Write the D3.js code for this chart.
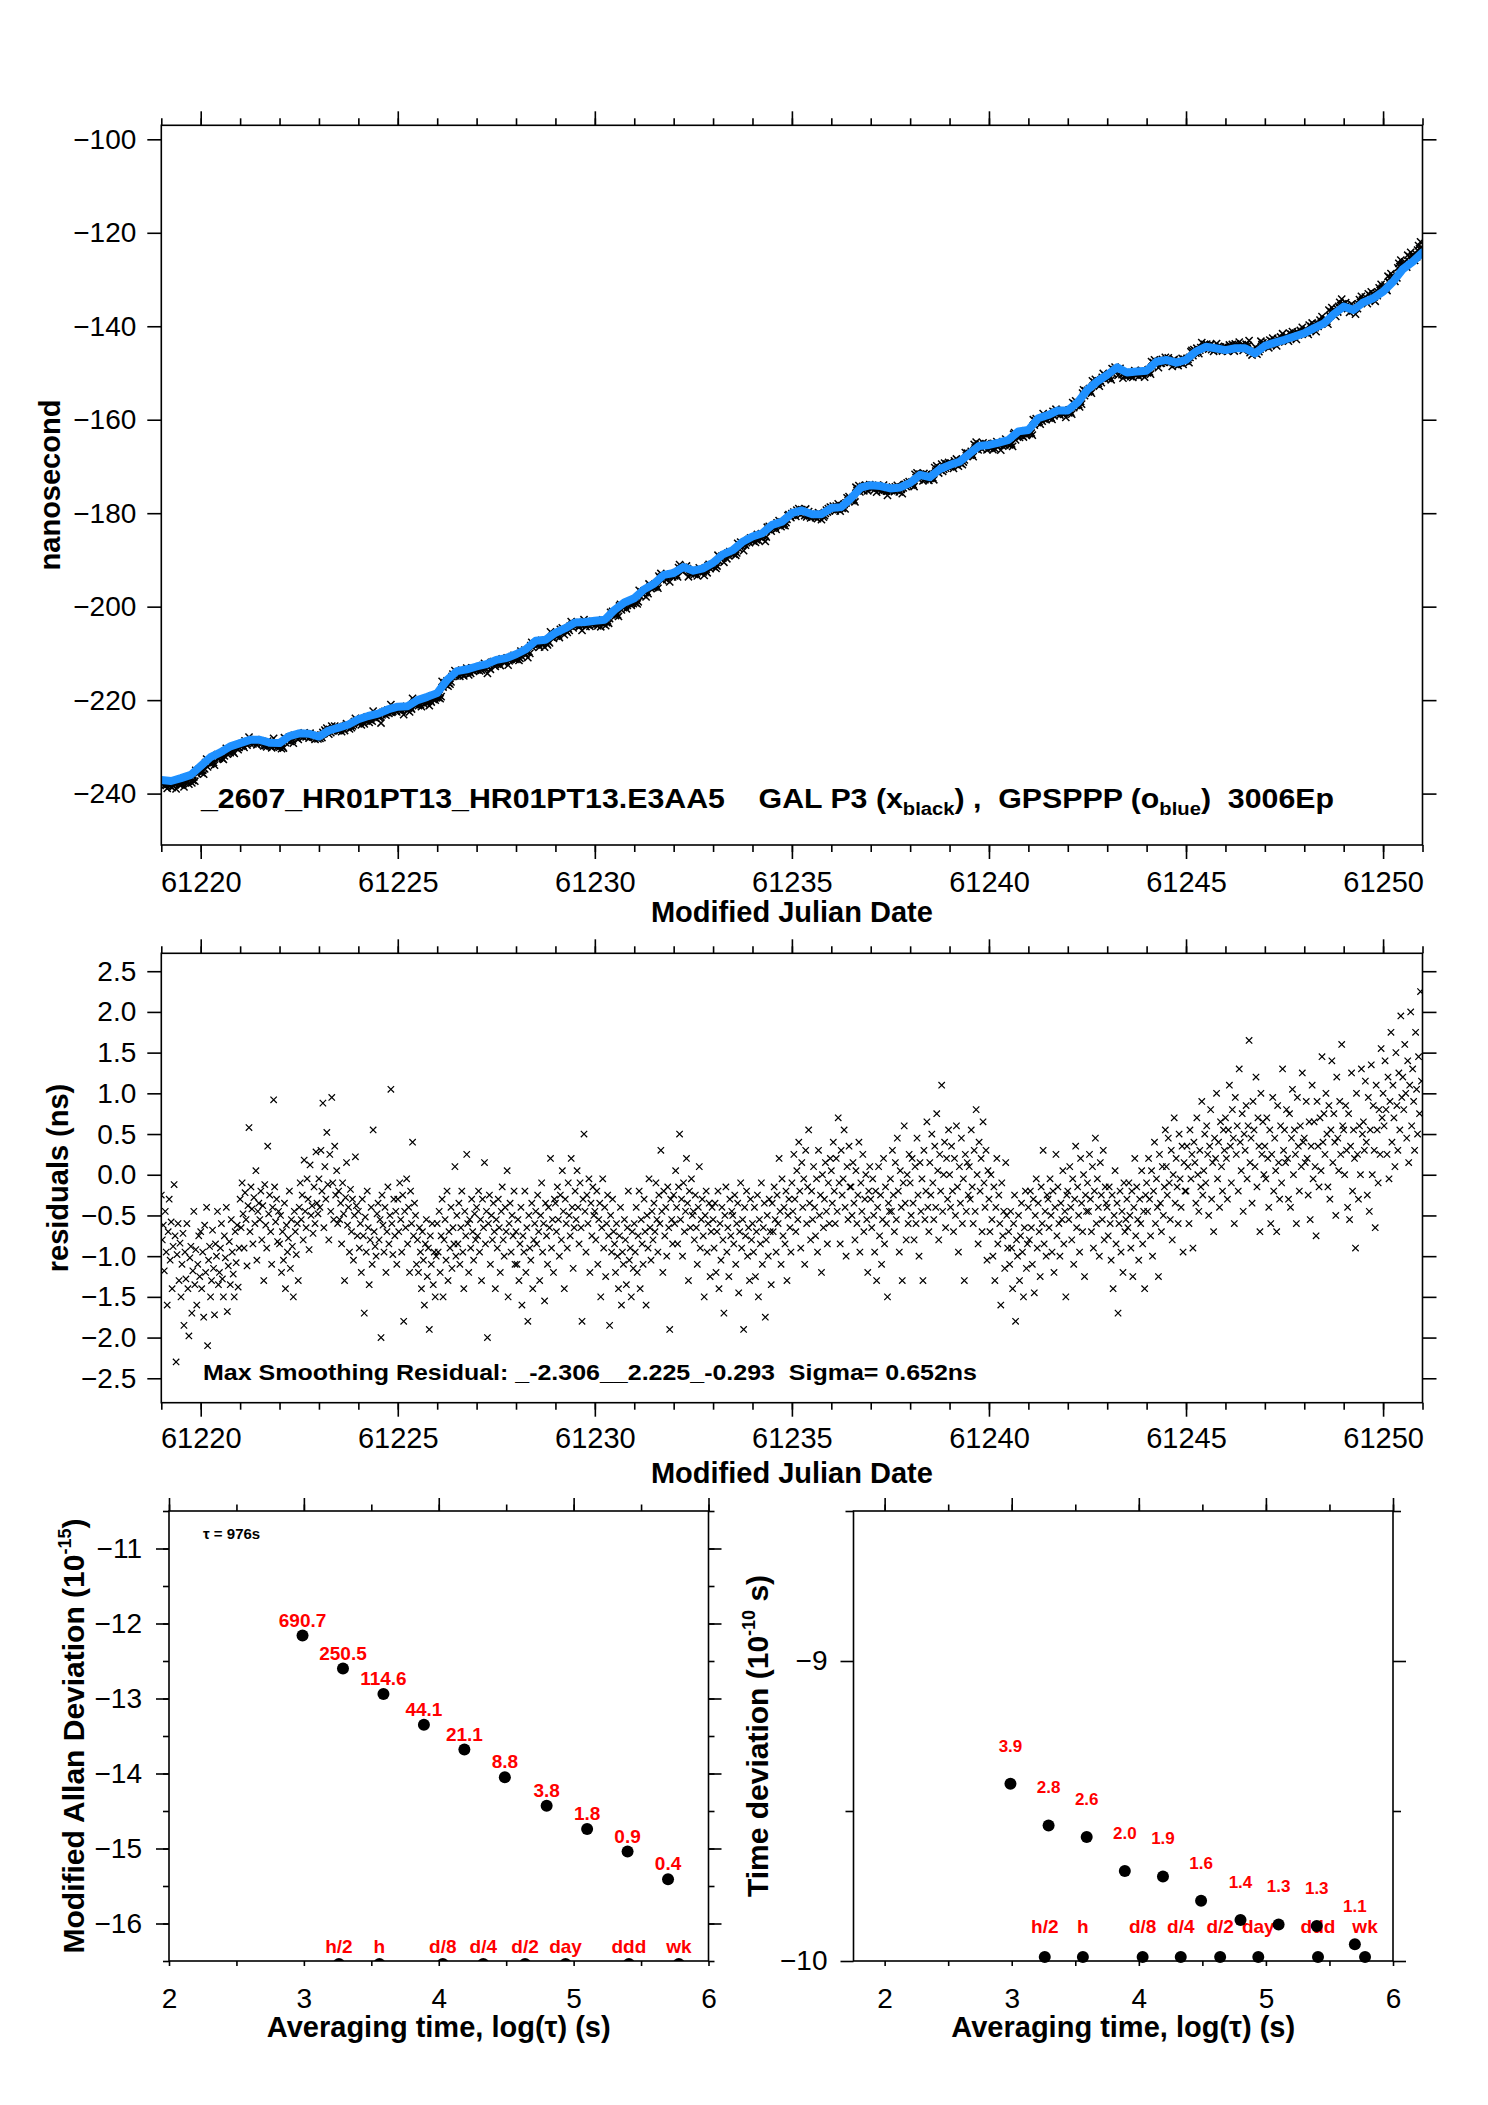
<!DOCTYPE html>
<html>
<head>
<meta charset="utf-8">
<script src="https://cdn.jsdelivr.net/npm/d3@7"></script>
<style>
  body { margin: 0; background: #fff; }
  svg { display: block; font-family: "Liberation Sans", Arial, Helvetica, sans-serif; }
</style>
</head>
<body>
<script>
// ---------- data ----------
// GPSPPP smoothed clock offset (blue), one value every 6 h from MJD 61219.0
const gpspppStartMjd = 61219;
const gpspppStepDays = 0.25;
const gpspppNs = [
  -237.1, -237.3, -236.7, -236.0, -234.1, -232.2, -231.2, -229.9, -229.2, -228.5,
  -228.5, -229.1, -229.2, -227.7, -227.1, -227.2, -227.8, -226.5, -225.9, -225.2,
  -224.1, -223.4, -222.9, -222.0, -221.4, -221.3, -220.0, -219.3, -218.5, -215.7,
  -213.8, -213.4, -212.8, -212.3, -211.4, -211.0, -210.2, -209.1, -207.3, -207.1,
  -205.6, -204.6, -203.4, -203.3, -203.0, -202.8, -200.7, -199.1, -198.2, -196.3,
  -195.1, -193.2, -192.8, -191.5, -192.3, -191.8, -190.6, -188.8, -187.9, -186.1,
  -185.0, -184.3, -182.5, -181.8, -180.0, -179.4, -180.2, -180.2, -178.9, -178.7,
  -176.8, -174.5, -174.0, -174.2, -174.7, -174.5, -173.5, -171.8, -172.3, -170.6,
  -169.7, -169.0, -167.3, -165.6, -165.4, -164.9, -164.3, -162.5, -162.2, -159.7,
  -159.0, -158.0, -158.0, -156.3, -153.6, -151.8, -150.4, -148.8, -149.9, -149.7,
  -149.5, -147.6, -147.2, -147.8, -147.2, -145.4, -144.4, -144.7, -145.1, -144.7,
  -144.7, -145.8, -144.2, -143.5, -142.9, -142.2, -141.5, -140.4, -139.4, -137.4,
  -135.8, -136.5, -134.9, -134.0, -132.6, -130.5, -127.8, -126.2, -124.2
];

// GAL P3 residuals from the smoothing, in 0.01 ns, one row per day, 40 epochs per day
const residualStartMjd = 61219;
const residualsPerDay = 40;
const residualRows = [
  [-25,-80,-62,-118,-45,-95,-160,-70,-30,-105,-58,-140,-88,-12,-75,-230,-98,-60,-130,-84,
   -150,-110,-72,-185,-95,-128,-60,-140,-198,-102,-88,-170,-118,-45,-135,-92,-160,-110,-75,-125],
  [-70,-140,-95,-175,-62,-120,-40,-210,-105,-88,-150,-130,-68,-115,-172,-85,-100,-45,-135,-120,
   -90,-60,-128,-150,-75,-102,-40,-168,-112,-82,-135,-55,-95,-122,-150,-70,-108,-62,-138,-90],
  [-30,-65,-10,-48,-90,-22,-55,-112,-38,58,-70,-15,-42,-85,-28,-60,5,-105,-45,-35,
   -55,-20,-80,-38,-130,-12,-62,-90,35,-48,-25,-70,-110,-40,92,-15,-58,-30,-82,-45],
  [-85,-50,-120,-70,-105,-35,-140,-62,-95,-78,-20,-115,-55,-88,-150,-45,-70,-98,-60,-130,
   -40,-10,-55,-25,-80,18,-45,-65,-5,-30,-92,12,-50,-38,-72,-15,-60,28,-35,-48],
  [-5,-40,30,-20,88,-65,10,-30,52,-12,-80,25,-45,95,-10,-55,35,-25,5,-60,
   -20,-55,-35,-85,-10,-48,-130,-28,15,-62,-40,-95,-18,-70,-30,-105,-50,22,-38,-75],
  [-45,-90,-60,-120,-30,-75,-170,-52,-95,-20,-65,-135,-80,-40,-110,55,-70,-88,-100,-48,
   -35,-80,-55,-200,-25,-62,-95,-40,-120,-70,-15,-85,-50,105,-60,-98,-30,-75,-45,-110],
  [-30,-70,-10,-55,-95,-25,-180,-45,-65,-5,-85,-40,-120,-20,-60,40,-75,-35,-50,-110,
   -80,-120,-65,-95,-140,-70,-105,-160,-85,-55,-125,-90,-190,-75,-110,-60,-135,-95,-150,-100],
  [-60,-95,-45,-120,-75,-30,-150,-80,-55,-105,-20,-130,-70,-90,-40,-115,-65,-85,10,-100,
   -50,-85,-35,-110,-65,-20,-95,-140,-45,-75,25,-60,-120,-55,-90,-30,-70,-105,-48,-80],
  [-40,-75,-20,-95,-55,-130,-30,-65,15,-85,-45,-200,-60,-25,-110,-50,-80,-35,-70,-140,
   -55,-90,-30,-65,-120,-45,-15,-80,-100,-40,-70,5,-150,-60,-35,-95,-50,-75,-20,-110],
  [-70,-110,-55,-130,-85,-40,-160,-75,-95,-20,-120,-65,-180,-50,-90,-105,-35,-140,-80,-60,
   -45,-85,-25,-70,-130,-50,-10,-95,-60,-155,-35,-75,-110,-40,-65,20,-90,-55,-120,-30],
  [-35,-70,-15,-55,-100,-25,-80,5,-45,-140,-30,-60,-90,-10,-50,-75,20,-40,-115,-65,
   -20,-55,5,-40,-85,-10,-65,-180,-30,50,-45,-95,-25,-60,-5,-120,-35,-75,-15,-50],
  [-45,-80,-20,-110,-55,-35,-150,-65,-5,-90,-40,-125,-60,-25,-75,-185,-50,-95,-30,-70,
   -85,-120,-60,-100,-140,-75,-40,-160,-95,-110,-55,-80,-135,-65,-20,-105,-90,-150,-70,-115],
  [-60,-95,-40,-120,-75,-20,-140,-55,-85,-110,-30,-70,-160,-50,-90,-5,-65,-105,-45,-80,
   -35,-70,-10,-55,-95,-25,-60,30,-45,-120,-20,-75,-40,-100,-15,-65,-190,-30,-55,-85],
  [-25,-60,5,-40,-85,-15,50,-55,-30,-100,-10,-70,-45,20,-35,-130,-20,-65,-5,-50,
   -45,-80,-25,-65,-110,-40,10,-90,-55,-30,-75,-150,-50,-20,-95,-60,-35,-125,-70,-40],
  [-55,-90,-35,-120,-70,-20,-140,-60,-105,-40,-80,-170,-50,-15,-95,-65,-125,-30,-75,-45,
   -50,-85,-25,-110,-60,-35,-145,-70,-10,-90,-55,-190,-40,-75,-20,-100,-65,-130,-30,-80],
  [-60,-95,-40,-125,-70,-25,-150,-55,-85,-10,-110,-65,-35,-175,-80,-50,-100,-30,-70,-135,
   -35,-70,-15,-55,-95,-25,-60,20,-45,-110,-5,-75,-40,-85,-20,-130,-50,-30,-65,-95],
  [-10,-45,25,-30,-70,5,-55,40,-20,-90,15,-40,-5,-110,30,-60,-15,55,-35,-80,
   -20,-55,10,-40,-75,-5,-95,30,-50,-25,-120,0,-65,-30,15,-45,-85,-10,-60,20],
  [5,-35,40,-20,-60,20,-45,70,-10,-85,30,-25,-5,55,-40,-100,10,-55,35,-15,
   -15,-50,15,-35,-80,5,-60,-25,40,-95,-10,-45,25,-70,-30,0,-55,-120,-20,10],
  [-30,-65,-5,-50,-95,-20,-130,-40,10,-75,-25,-110,-55,20,-85,-15,-60,-150,-35,-45,
   -5,-45,30,-25,-70,15,-55,45,-20,-95,5,-40,-130,-10,60,-35,-80,0,-60,25],
  [-10,-50,20,-35,-80,10,-60,45,-25,-100,15,-45,-5,-130,30,-55,-20,65,-40,-70,
   15,-25,50,-10,-55,35,-40,75,5,-80,25,-20,110,-45,0,40,-65,20,-30,55],
  [0,-40,35,-20,-70,20,-50,60,-15,-95,10,-35,45,-60,-5,-130,25,-45,15,-25,
   10,-30,55,-15,-60,30,-45,80,0,-85,40,-20,20,-70,65,-10,-40,30,-105,5],
  [-30,-70,0,-55,-100,-15,-130,-40,20,-85,-25,-60,-160,-10,-75,-45,-115,15,-50,-90,
   -70,-110,-45,-90,-140,-60,-25,-180,-80,-100,-50,-130,-75,-35,-95,-150,-65,-20,-115,-85],
  [-40,-80,-20,-65,-110,-30,-145,-50,-5,-90,-35,-70,-125,-15,-60,30,-85,-45,-100,-25,
   -30,-65,-5,-50,-95,-20,-120,-40,25,-75,-15,-60,-100,-35,-55,5,-85,-45,-150,-25],
  [-20,-55,10,-40,-80,-5,-110,-30,35,-65,-15,-50,-95,20,-35,-70,0,-125,-25,-45,
   -10,-45,25,-30,-70,10,-90,-20,45,-60,-5,-40,-100,15,-25,-55,30,-80,-15,-35],
  [-40,-75,-15,-60,-105,-25,-140,-50,5,-85,-35,-170,-60,-20,-95,-45,-120,-10,-70,-55,
   -30,-65,-10,-50,-90,-20,-125,-40,20,-75,-15,-55,-105,-30,-60,5,-85,-45,-140,-25],
  [-10,-45,20,-30,-75,5,-100,-20,40,-60,-5,-40,-125,25,-35,-70,10,-50,-15,55,
   10,-25,45,-10,-55,30,-80,0,70,-35,20,-15,-60,50,-5,-40,35,-95,15,-20],
  [-20,35,10,-60,55,-5,25,-90,40,15,-35,70,0,-45,30,-15,90,-25,5,50,
   -10,60,25,-50,35,80,-30,15,-70,45,20,100,-5,40,-40,65,10,-20,55,30],
  [70,20,-30,55,110,35,-10,80,45,-60,95,25,60,-20,130,40,5,75,-45,50,
   30,85,-5,60,165,15,45,-35,90,55,10,120,-15,70,35,-70,100,25,65,0],
  [35,-5,70,20,-40,55,-60,25,95,-20,45,5,-70,85,15,-30,60,-10,130,30,
   55,15,80,20,-30,75,-40,45,105,0,55,25,-60,95,35,-20,60,10,125,40],
  [45,15,90,20,-25,65,-55,35,110,-5,65,10,-75,90,35,-15,70,5,145,40,
   75,25,100,50,-15,85,-30,55,140,15,75,40,-50,120,45,5,90,25,160,60],
  [55,0,85,30,-40,75,-55,35,125,-20,55,20,-90,100,25,-30,60,0,130,50,
   65,30,115,40,-25,95,-45,55,135,0,85,30,-65,110,55,-10,80,25,155,70],
  [100,60,140,80,25,120,-5,90,175,40,110,70,10,150,85,30,125,55,195,95,
   120,80,160,100,45,140,15,110,200,60,130,90,30,175,105,50,145,75,225,115]
];

// tick values
const mjdTicks = [61220, 61225, 61230, 61235, 61240, 61245, 61250];
const nsTicks = [-240, -220, -200, -180, -160, -140, -120, -100];
const residualTicks = [-2.5, -2.0, -1.5, -1.0, -0.5, 0.0, 0.5, 1.0, 1.5, 2.0, 2.5];
const adevTicks = [-16, -15, -14, -13, -12, -11];
const tdevTicks = [-10, -9];
const logTauTicks = [2, 3, 4, 5, 6];

// stability results
const tauLog = [2.99, 3.29, 3.59, 3.89, 4.19, 4.49, 4.80, 5.10, 5.40, 5.70];
const adevLog = [-12.16, -12.60, -12.94, -13.35, -13.68, -14.05, -14.43, -14.74, -15.04, -15.41];
const adevText = ['690.7', '250.5', '114.6', '44.1', '21.1', '8.8', '3.8', '1.8', '0.9', '0.4'];
const tdevLog = [-9.409, -9.548, -9.587, -9.700, -9.718, -9.799, -9.863, -9.878, -9.883, -9.944];
const tdevText = ['3.9', '2.8', '2.6', '2.0', '1.9', '1.6', '1.4', '1.3', '1.3', '1.1'];
const spanNames = ['h/2', 'h', 'd/8', 'd/4', 'd/2', 'day', 'ddd', 'wk'];
const spanLogTau = [3.26, 3.56, 4.03, 4.33, 4.64, 4.94, 5.41, 5.78];

// ---------- layout ----------
const W = 1488, H = 2105;
const topBox = {left: 161.3, right: 1422.5, top: 125.3, bottom: 845};
const resBox = {left: 161.3, right: 1422.5, top: 953.3, bottom: 1402.7};
const adevBox = {left: 169, right: 708.5, top: 1511, bottom: 1961};
const tdevBox = {left: 853.5, right: 1393, top: 1511, bottom: 1961};

const svg = d3.select('body').append('svg').attr('width', W).attr('height', H);

const xTop = d3.scaleLinear().domain([61219, 61251]).range([topBox.left, topBox.right]);
const yTop = d3.scaleLinear().domain([-251, -97]).range([topBox.bottom, topBox.top]);
const xRes = d3.scaleLinear().domain([61219, 61251]).range([resBox.left, resBox.right]);
const yRes = d3.scaleLinear().domain([-2.8, 2.72]).range([resBox.bottom, resBox.top]);
const xAdev = d3.scaleLinear().domain([2, 6]).range([adevBox.left, adevBox.right]);
const yAdev = d3.scaleLinear().domain([-16.5, -10.5]).range([adevBox.bottom, adevBox.top]);
const xTdev = d3.scaleLinear().domain([1.755, 6]).range([tdevBox.left, tdevBox.right]);
const yTdev = d3.scaleLinear().domain([-10, -8.5]).range([tdevBox.bottom, tdevBox.top]);

const dayTicks = d3.range(61219, 61252);
const halfTicks = d3.range(2, 6.01, 0.5);

// ---------- helpers ----------
function addAxis(axis, tx, ty, fontSize) {
  const g = svg.append('g').attr('transform', 'translate(' + tx + ',' + ty + ')').call(axis);
  g.select('.domain').remove();
  g.attr('font-family', null).attr('font-size', fontSize || 28);
  g.selectAll('.tick line').attr('stroke', '#000').attr('stroke-width', 1.6);
  g.selectAll('.tick text').attr('fill', '#000');
  return g;
}

function frame(b) {
  svg.append('rect')
     .attr('x', b.left).attr('y', b.top)
     .attr('width', b.right - b.left).attr('height', b.bottom - b.top)
     .attr('fill', 'none').attr('stroke', '#000').attr('stroke-width', 1.6);
}

function clip(id, b) {
  svg.append('clipPath').attr('id', id).append('rect')
     .attr('x', b.left).attr('y', b.top)
     .attr('width', b.right - b.left).attr('height', b.bottom - b.top);
}

function yTitle(x, y, size, parts) {
  const t = svg.append('text')
               .attr('transform', 'translate(' + x + ',' + y + ') rotate(-90)')
               .attr('text-anchor', 'middle').attr('font-weight', 'bold').attr('font-size', size);
  parts.forEach(p => {
    const s = t.append('tspan').text(p.text);
    if (p.sup) s.attr('font-size', size * 0.6).attr('dy', -size * 0.42);
    if (p.back) s.attr('dy', size * 0.42);
  });
}

const xMark = s => 'M' + (-s) + ',' + (-s) + 'L' + s + ',' + s + 'M' + (-s) + ',' + s + 'L' + s + ',' + (-s);

// residual epochs, paired with the GPSPPP epoch they belong to
const galPoints = [];
residualRows.forEach((row, d) => row.forEach((r, j) => {
  const mjd = residualStartMjd + d + j / residualsPerDay;
  const k = Math.round((mjd - gpspppStartMjd) / gpspppStepDays);
  galPoints.push({mjd: mjd, res: r / 100, ns: gpspppNs[k] + r / 100});
}));
const gpspppPoints = gpspppNs.map((v, i) => ({mjd: gpspppStartMjd + i * gpspppStepDays, ns: v}));

// ---------- panel 1: clock offset ----------
clip('clipTop', topBox);
const topG = svg.append('g').attr('clip-path', 'url(#clipTop)');

topG.selectAll('path.gal')
    .data(galPoints)
    .enter()
    .append('path')
    .attr('class', 'gal')
    .attr('d', xMark(3.6))
    .attr('transform', d => 'translate(' + xTop(d.mjd) + ',' + yTop(d.ns) + ')')
    .attr('stroke', '#000').attr('stroke-width', 1.5).attr('fill', 'none');

topG.append('path')
    .datum(gpspppPoints)
    .attr('d', d3.line().x(d => xTop(d.mjd)).y(d => yTop(d.ns)))
    .attr('fill', 'none').attr('stroke', '#1e90ff')
    .attr('stroke-width', 8).attr('stroke-linejoin', 'round').attr('stroke-linecap', 'round');

frame(topBox);
addAxis(d3.axisBottom(xTop).tickValues(dayTicks).tickSize(7).tickFormat(''), 0, topBox.bottom);
addAxis(d3.axisBottom(xTop).tickValues(mjdTicks).tickSize(14).tickPadding(12).tickFormat(d3.format('d')), 0, topBox.bottom, 29);
addAxis(d3.axisTop(xTop).tickValues(dayTicks).tickSize(7).tickFormat(''), 0, topBox.top);
addAxis(d3.axisTop(xTop).tickValues(mjdTicks).tickSize(14).tickFormat(''), 0, topBox.top);
addAxis(d3.axisLeft(yTop).tickValues(nsTicks).tickSize(14).tickPadding(11).tickFormat(d3.format('d')), topBox.left, 0, 28);
addAxis(d3.axisRight(yTop).tickValues(nsTicks).tickSize(14).tickFormat(''), topBox.right, 0);

svg.append('text').attr('x', (topBox.left + topBox.right) / 2).attr('y', 922)
   .attr('text-anchor', 'middle').attr('font-weight', 'bold').attr('font-size', 29)
   .text('Modified Julian Date');
yTitle(60, 485, 29, [{text: 'nanosecond'}]);

const title = svg.append('text')
                 .attr('x', 201).attr('y', 808)
                 .attr('font-size', 27).attr('font-weight', 'bold')
                 .attr('textLength', 1133).attr('lengthAdjust', 'spacingAndGlyphs')
                 .style('white-space', 'pre');
title.append('tspan').text('_2607_HR01PT13_HR01PT13.E3AA5    GAL P3 (x');
title.append('tspan').attr('font-size', 18).attr('dy', 7).text('black');
title.append('tspan').attr('dy', -7).text(') ,  GPSPPP (o');
title.append('tspan').attr('font-size', 18).attr('dy', 7).text('blue');
title.append('tspan').attr('dy', -7).text(')  3006Ep');

// ---------- panel 2: residuals ----------
clip('clipRes', resBox);
const resG = svg.append('g').attr('clip-path', 'url(#clipRes)');
resG.selectAll('path.res')
    .data(galPoints)
    .enter()
    .append('path')
    .attr('class', 'res')
    .attr('d', xMark(3.2))
    .attr('transform', d => 'translate(' + xRes(d.mjd) + ',' + yRes(d.res) + ')')
    .attr('stroke', '#000').attr('stroke-width', 1.2).attr('fill', 'none');

frame(resBox);
addAxis(d3.axisBottom(xRes).tickValues(dayTicks).tickSize(7).tickFormat(''), 0, resBox.bottom);
addAxis(d3.axisBottom(xRes).tickValues(mjdTicks).tickSize(14).tickPadding(11).tickFormat(d3.format('d')), 0, resBox.bottom, 29);
addAxis(d3.axisTop(xRes).tickValues(dayTicks).tickSize(7).tickFormat(''), 0, resBox.top);
addAxis(d3.axisTop(xRes).tickValues(mjdTicks).tickSize(14).tickFormat(''), 0, resBox.top);
addAxis(d3.axisLeft(yRes).tickValues(residualTicks).tickSize(14).tickPadding(11).tickFormat(d3.format('.1f')), resBox.left, 0, 28);
addAxis(d3.axisRight(yRes).tickValues(residualTicks).tickSize(14).tickFormat(''), resBox.right, 0);

svg.append('text').attr('x', (resBox.left + resBox.right) / 2).attr('y', 1483)
   .attr('text-anchor', 'middle').attr('font-weight', 'bold').attr('font-size', 29)
   .text('Modified Julian Date');
yTitle(68, 1178, 29, [{text: 'residuals (ns)'}]);

svg.append('text')
   .attr('x', 203).attr('y', 1380)
   .attr('font-size', 22).attr('font-weight', 'bold')
   .attr('textLength', 774).attr('lengthAdjust', 'spacingAndGlyphs')
   .style('white-space', 'pre')
   .text('Max Smoothing Residual: _-2.306__2.225_-0.293  Sigma= 0.652ns');

// ---------- panel 3: modified Allan deviation ----------
clip('clipAdev', adevBox);
frame(adevBox);
addAxis(d3.axisLeft(yAdev).tickValues(d3.range(-16.5, -10.4, 0.5)).tickSize(6).tickFormat(''), adevBox.left, 0);
addAxis(d3.axisLeft(yAdev).tickValues(adevTicks).tickSize(13).tickPadding(14).tickFormat(d3.format('d')), adevBox.left, 0, 28);
addAxis(d3.axisRight(yAdev).tickValues(d3.range(-16.5, -10.4, 0.5)).tickSize(6).tickFormat(''), adevBox.right, 0);
addAxis(d3.axisRight(yAdev).tickValues(adevTicks).tickSize(13).tickFormat(''), adevBox.right, 0);
addAxis(d3.axisTop(xAdev).tickValues(halfTicks).tickSize(6.5).tickFormat(''), 0, adevBox.top);
addAxis(d3.axisTop(xAdev).tickValues(logTauTicks).tickSize(13).tickFormat(''), 0, adevBox.top);
addAxis(d3.axisBottom(xAdev).tickValues(halfTicks).tickSize(5).tickPadding(22).tickFormat(d => logTauTicks.includes(d) ? d : ''), 0, adevBox.bottom, 28);

svg.append('g').attr('clip-path', 'url(#clipAdev)')
   .selectAll('circle')
   .data(spanLogTau)
   .enter()
   .append('circle')
   .attr('cx', d => xAdev(d)).attr('cy', yAdev(-16.5) + 3).attr('r', 6).attr('fill', '#000');

svg.append('g').selectAll('text')
   .data(spanNames)
   .enter()
   .append('text')
   .attr('x', (d, i) => xAdev(spanLogTau[i])).attr('y', yAdev(-16.5) - 8)
   .attr('text-anchor', 'middle').attr('font-size', 19).attr('font-weight', 'bold').attr('fill', '#ff0000')
   .text(d => d);

svg.append('g').selectAll('circle')
   .data(adevLog)
   .enter()
   .append('circle')
   .attr('cx', (d, i) => xAdev(tauLog[i])).attr('cy', d => yAdev(d)).attr('r', 6).attr('fill', '#000');

svg.append('g').selectAll('text')
   .data(adevText)
   .enter()
   .append('text')
   .attr('x', (d, i) => xAdev(tauLog[i])).attr('y', (d, i) => yAdev(adevLog[i]) - 9)
   .attr('text-anchor', 'middle').attr('font-size', 19).attr('font-weight', 'bold').attr('fill', '#ff0000')
   .text(d => d);

svg.append('text').attr('x', 203).attr('y', 1539).attr('font-size', 15).attr('font-weight', 'bold').text('\u03c4 = 976s');
svg.append('text').attr('x', (adevBox.left + adevBox.right) / 2).attr('y', 2037)
   .attr('text-anchor', 'middle').attr('font-weight', 'bold').attr('font-size', 29)
   .text('Averaging time, log(\u03c4) (s)');
yTitle(84, 1736, 30, [{text: 'Modified Allan Deviation (10'}, {text: '-15', sup: true}, {text: ')', back: true}]);

// ---------- panel 4: time deviation ----------
frame(tdevBox);
addAxis(d3.axisLeft(yTdev).tickValues([-9.5, -8.5]).tickSize(8).tickFormat(''), tdevBox.left, 0);
addAxis(d3.axisLeft(yTdev).tickValues(tdevTicks).tickSize(13).tickPadding(13).tickFormat(d3.format('d')), tdevBox.left, 0, 28);
addAxis(d3.axisRight(yTdev).tickValues([-9.5, -8.5]).tickSize(8).tickFormat(''), tdevBox.right, 0);
addAxis(d3.axisRight(yTdev).tickValues(tdevTicks).tickSize(13).tickFormat(''), tdevBox.right, 0);
addAxis(d3.axisTop(xTdev).tickValues(halfTicks).tickSize(6.5).tickFormat(''), 0, tdevBox.top);
addAxis(d3.axisTop(xTdev).tickValues(logTauTicks).tickSize(13).tickFormat(''), 0, tdevBox.top);
addAxis(d3.axisBottom(xTdev).tickValues(halfTicks).tickSize(5).tickPadding(22).tickFormat(d => logTauTicks.includes(d) ? d : ''), 0, tdevBox.bottom, 28);

svg.append('g').selectAll('circle')
   .data(spanLogTau)
   .enter()
   .append('circle')
   .attr('cx', d => xTdev(d)).attr('cy', yTdev(-10) - 4).attr('r', 6).attr('fill', '#000');

svg.append('g').selectAll('text')
   .data(spanNames)
   .enter()
   .append('text')
   .attr('x', (d, i) => xTdev(spanLogTau[i])).attr('y', yTdev(-10) - 28)
   .attr('text-anchor', 'middle').attr('font-size', 19).attr('font-weight', 'bold').attr('fill', '#ff0000')
   .text(d => d);

svg.append('g').selectAll('circle')
   .data(tdevLog)
   .enter()
   .append('circle')
   .attr('cx', (d, i) => xTdev(tauLog[i])).attr('cy', d => yTdev(d)).attr('r', 6).attr('fill', '#000');

svg.append('g').selectAll('text')
   .data(tdevText)
   .enter()
   .append('text')
   .attr('x', (d, i) => xTdev(tauLog[i])).attr('y', (d, i) => yTdev(tdevLog[i]) - 32)
   .attr('text-anchor', 'middle').attr('font-size', 17).attr('font-weight', 'bold').attr('fill', '#ff0000')
   .text(d => d);

svg.append('text').attr('x', (tdevBox.left + tdevBox.right) / 2).attr('y', 2037)
   .attr('text-anchor', 'middle').attr('font-weight', 'bold').attr('font-size', 29)
   .text('Averaging time, log(\u03c4) (s)');
yTitle(768, 1736, 30, [{text: 'Time deviation (10'}, {text: '-10', sup: true}, {text: ' s)', back: true}]);
</script>
</body>
</html>
